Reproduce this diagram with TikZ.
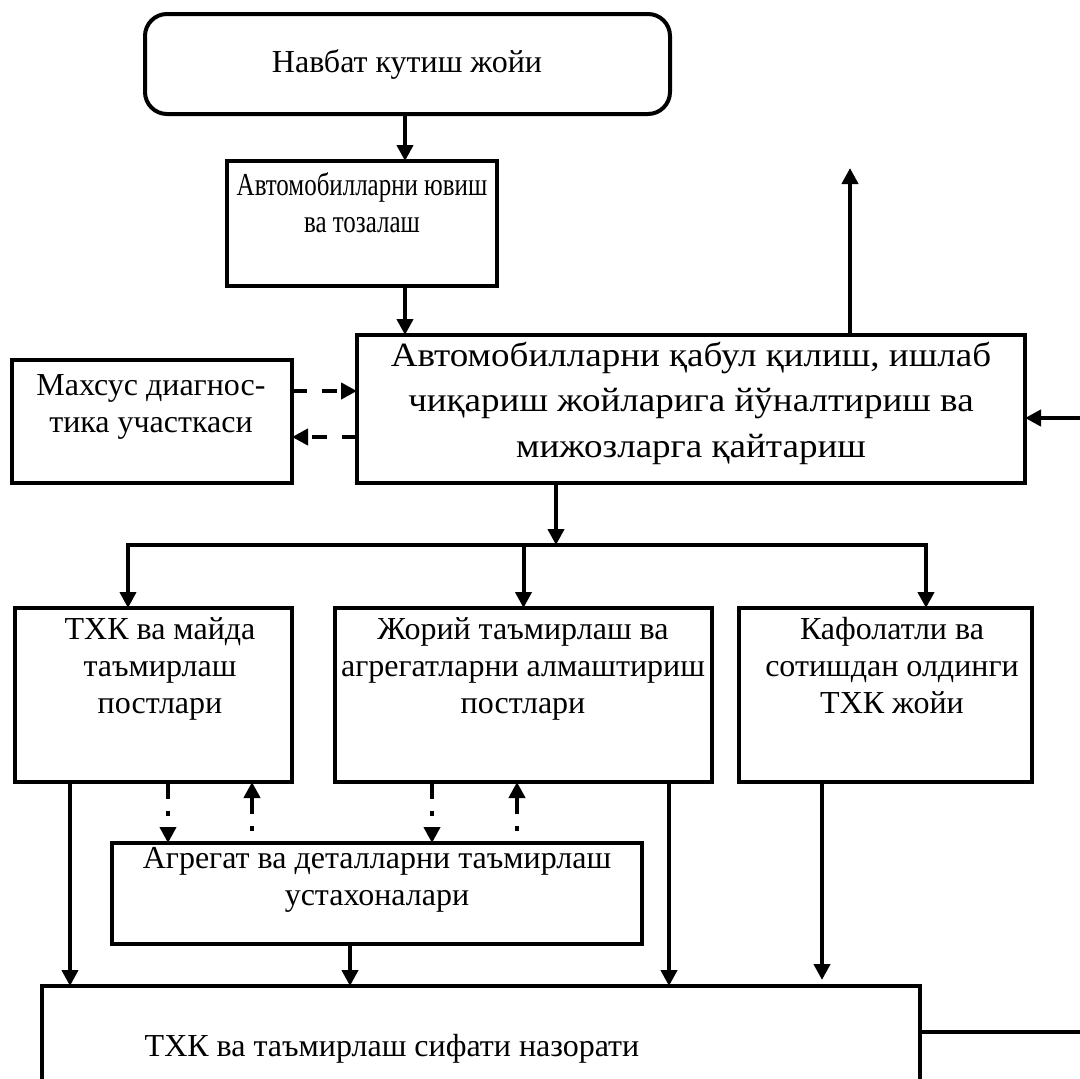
\documentclass[tikz,border=0pt]{standalone}
\usepackage{fontspec}
\setmainfont{Liberation Serif}
\newfontfamily\narrowfont[FakeStretch=0.78]{Liberation Serif}
\newfontfamily\widefont[FakeStretch=1.09]{Liberation Serif}
\usetikzlibrary{arrows.meta}

\begin{document}
\begin{tikzpicture}[x=1pt,y=-1pt, line width=4pt,
    >={Triangle[length=16pt,width=16pt]},
    box/.style={draw, anchor=north west, outer sep=0pt, inner sep=0pt},
    txt/.style={align=center, anchor=base, inner sep=0pt, font=\fontsize{32}{37}\selectfont},
    dsh/.style={dash pattern=on 15pt off 15pt},
    dashdot/.style={dash pattern=on 17pt off 12pt on 5pt off 12pt}]

    \useasboundingbox (0,0) rectangle (1080,1079);
    \clip (0,0) rectangle (1080,1079);

    % boxes
    \node[box, rounded corners=22pt, minimum width=525pt, minimum height=100pt] (queue) at (145,14) {};
    \node[box, minimum width=270pt, minimum height=125pt] (wash) at (227,161) {};
    \node[box, minimum width=668pt, minimum height=148pt] (main) at (357,335) {};
    \node[box, minimum width=280pt, minimum height=123pt] (diag) at (12,360) {};
    \node[box, minimum width=277pt, minimum height=174pt] (thk) at (15,608) {};
    \node[box, minimum width=377pt, minimum height=174pt] (cur) at (335,608) {};
    \node[box, minimum width=293pt, minimum height=174pt] (warr) at (739,608) {};
    \node[box, minimum width=530pt, minimum height=101pt] (agr) at (112,843) {};
    \node[box, minimum width=878pt, minimum height=150pt] (qc) at (42,986) {};

    % texts (base = last line)
    \node[txt] (queuetxt) at (407,72) {Навбат кутиш жойи};
    \node[txt, font=\narrowfont\fontsize{32}{37}\selectfont] (washtxt) at (362,232) {Автомобилларни ювиш\\ва тозалаш};
    \node[txt, font=\widefont\fontsize{34}{45.5}\selectfont] (maintxt) at (691,457)
      {Автомобилларни қабул қилиш, ишлаб\\чиқариш жойларига йўналтириш ва\\мижозларга қайтариш};
    \node[txt] (diagtxt) at (151,432) {Махсус диагнос-\\тика участкаси};
    \node[txt] (thktxt) at (160,713) {ТХК ва майда\\таъмирлаш\\постлари};
    \node[txt] (curtxt) at (523,713) {Жорий таъмирлаш ва\\агрегатларни алмаштириш\\постлари};
    \node[txt] (warrtxt) at (892,713) {Кафолатли ва\\сотишдан олдинги\\ТХК жойи};
    \node[txt] (agrtxt) at (377,905) {Агрегат ва деталларни таъмирлаш\\устахоналари};
    \node[txt] (qctxt) at (392,1056) {ТХК ва таъмирлаш сифати назорати};

    % top chain
    \draw[->] (405,0 |- queue.south) -- (405,0 |- wash.north);
    \draw[->] (405,0 |- wash.south) -- (405,0 |- main.north);
    \coordinate (up) at (850,168);
    \draw[->] (up |- main.north) -- (up);
    \coordinate (fbin) at (1080,418);
    \draw[->] (fbin) -- (fbin -| main.east);

    % diagnostics
    \draw[->, dsh] (diag.east |- 0,391) -- (main.west |- 0,391);
    \draw[->, dsh] (main.west |- 0,437) -- (diag.east |- 0,437);

    % split to the posts
    \coordinate (split) at (556,545);
    \coordinate (bl) at (128,545);
    \coordinate (br) at (926,545);
    \draw[->] (split |- main.south) -- (split);
    \draw[line cap=rect] (bl) -- (br);
    \foreach \c/\b in {bl/thk, br/warr}
      \draw[->] (\c) -- (\c |- \b.north);
    \draw[->] (cur.north |- split) -- (cur.north);

    % posts and workshops
    \foreach \x/\b in {168/thk, 432/cur}
      \draw[->, dashdot] (\x,0 |- \b.south) -- (\x,0 |- agr.north);
    \foreach \x/\b in {252/thk, 517/cur}
      \draw[<-, dashdot] (\x,0 |- \b.south) -- (\x,0 |- agr.north);

    % to quality control
    \foreach \x/\b in {70/thk, 669/cur, 350/agr}
      \draw[->] (\x,0 |- \b.south) -- (\x,0 |- qc.north);
    \draw[->, shorten >=6pt] (822,0 |- warr.south) -- (822,0 |- qc.north);
    \coordinate (fbout) at (1080,1032);
    \draw (fbout -| qc.east) -- (fbout);
\end{tikzpicture}
\end{document}
